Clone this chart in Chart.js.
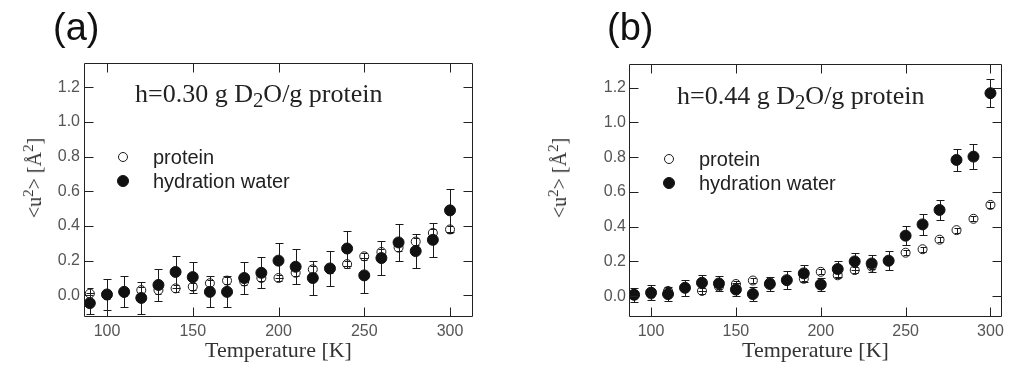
<!DOCTYPE html>
<html>
<head>
<meta charset="utf-8">
<script src="https://cdn.jsdelivr.net/npm/chart.js@4/dist/chart.umd.min.js"></script>
<style>
body { margin: 0; background: #fff; width: 1009px; height: 374px; position: relative; overflow: hidden; }
.panel { position: absolute; top: 0; height: 374px; }
.letter { position: absolute; font: 38px/1 "Liberation Sans", Arial, sans-serif; color: #111; }
.note { position: absolute; font: 26px/26px "Liberation Serif", "Times New Roman", serif; color: #222; white-space: nowrap; }
.note sub { font-size: 0.8em; line-height: 0; vertical-align: -0.25em; }
.ytitle { position: absolute; font: 20px/20px "Liberation Serif", "Times New Roman", serif; color: #333; white-space: nowrap;
          transform: translate(-50%, -50%) rotate(-90deg); }
.ytitle sup { font-size: 0.75em; line-height: 0; }
</style>
</head>
<body>
<div class="panel" style="left:0;width:490px"><canvas id="chartA"></canvas></div>
<div class="panel" style="left:545px;width:464px"><canvas id="chartB"></canvas></div>

<div class="letter" style="left:53px;top:8px">(a)</div>
<div class="letter" style="left:607px;top:8px">(b)</div>
<div class="note" style="left:135px;top:81px">h=0.30 g D<sub>2</sub>O/g protein</div>
<div class="note" style="left:677px;top:83px">h=0.44 g D<sub>2</sub>O/g protein</div>
<div class="ytitle" style="left:34px;top:178px">&lt;u<sup>2</sup>&gt; [Å<sup>2</sup>]</div>
<div class="ytitle" style="left:559px;top:178px">&lt;u<sup>2</sup>&gt; [Å<sup>2</sup>]</div>

<script>
// temperatures [K]
const temps = [90, 100, 110, 120, 130, 140, 150, 160, 170, 180, 190, 200, 210, 220, 230, 240, 250, 260, 270, 280, 290, 300];
const seriesLabels = ['protein', 'hydration water'];
const xTicks = [100, 150, 200, 250, 300];
const yTicks = [0, 0.2, 0.4, 0.6, 0.8, 1.0, 1.2];

// (a) h=0.30
const proteinA    = [0.01, 0.00, 0.015, 0.03, 0.03, 0.04, 0.05, 0.07, 0.085, 0.08, 0.10, 0.10, 0.13, 0.15, 0.15, 0.18, 0.225, 0.25, 0.275, 0.31, 0.36, 0.38];
const proteinErrA = [0.035, 0.02, 0.02, 0.02, 0.02, 0.02, 0.02, 0.02, 0.02, 0.02, 0.02, 0.02, 0.02, 0.02, 0.02, 0.02, 0.02, 0.02, 0.02, 0.02, 0.02, 0.02];
const waterA      = [-0.045, 0.005, 0.02, -0.015, 0.06, 0.135, 0.105, 0.02, 0.02, 0.10, 0.13, 0.20, 0.165, 0.10, 0.155, 0.27, 0.115, 0.215, 0.305, 0.255, 0.32, 0.49];
const waterErrA   = [0.06, 0.09, 0.09, 0.09, 0.09, 0.09, 0.09, 0.09, 0.09, 0.095, 0.09, 0.10, 0.10, 0.10, 0.10, 0.10, 0.10, 0.10, 0.105, 0.10, 0.10, 0.125];

// (b) h=0.44
const proteinB    = [0.01, 0.01, 0.03, 0.05, 0.03, 0.055, 0.07, 0.09, 0.08, 0.09, 0.10, 0.14, 0.12, 0.15, 0.17, 0.20, 0.25, 0.27, 0.325, 0.38, 0.445, 0.525];
const proteinErrB = [0.015, 0.015, 0.015, 0.015, 0.015, 0.015, 0.015, 0.015, 0.015, 0.015, 0.015, 0.015, 0.015, 0.015, 0.015, 0.015, 0.015, 0.015, 0.015, 0.015, 0.015, 0.015];
const waterB      = [0.008, 0.02, 0.012, 0.048, 0.077, 0.073, 0.038, 0.012, 0.07, 0.092, 0.131, 0.067, 0.156, 0.20, 0.188, 0.204, 0.348, 0.413, 0.496, 0.784, 0.803, 1.168];
const waterErrB   = [0.04, 0.045, 0.04, 0.045, 0.045, 0.045, 0.04, 0.04, 0.04, 0.05, 0.05, 0.04, 0.045, 0.05, 0.05, 0.055, 0.055, 0.06, 0.06, 0.065, 0.07, 0.08];

const INK = '#1a1a1a';

// vertical error bars with caps, drawn under the markers
const errorBars = {
    id: 'errorBars',
    beforeDatasetsDraw(chart) {
        const ctx = chart.ctx;
        const xs = chart.scales.x, ys = chart.scales.y;
        ctx.save();
        ctx.strokeStyle = INK;
        ctx.lineWidth = 1;
        chart.data.datasets.forEach(ds => {
            ds.data.forEach((p, i) => {
                const e = ds.errors[i];
                const x = Math.round(xs.getPixelForValue(p.x)) + 0.5;
                const y1 = Math.round(ys.getPixelForValue(p.y + e)) + 0.5;
                const y2 = Math.round(ys.getPixelForValue(p.y - e)) + 0.5;
                const c = ds.capHalf;
                ctx.beginPath();
                ctx.moveTo(x, y1); ctx.lineTo(x, y2);
                ctx.moveTo(x - c, y1); ctx.lineTo(x + c, y1);
                ctx.moveTo(x - c, y2); ctx.lineTo(x + c, y2);
                ctx.stroke();
            });
        });
        ctx.restore();
    }
};

// box frame with inward ticks on all four sides
const frame = {
    id: 'frame',
    afterDraw(chart) {
        const ctx = chart.ctx;
        const a = chart.chartArea;
        const xs = chart.scales.x, ys = chart.scales.y;
        const L = Math.round(a.left) + 0.5, R = Math.round(a.right) - 0.5;
        const T = Math.round(a.top) + 0.5, B = Math.round(a.bottom) - 0.5;
        const len = 9;
        ctx.save();
        ctx.strokeStyle = '#222';
        ctx.lineWidth = 1;
        ctx.beginPath();
        ctx.rect(L, T, R - L, B - T);
        xTicks.forEach(v => {
            const x = Math.round(xs.getPixelForValue(v)) + 0.5;
            ctx.moveTo(x, B); ctx.lineTo(x, B - len);
            ctx.moveTo(x, T); ctx.lineTo(x, T + len);
        });
        yTicks.forEach(v => {
            const y = Math.round(ys.getPixelForValue(v)) + 0.5;
            ctx.moveTo(L, y); ctx.lineTo(L + len, y);
            ctx.moveTo(R, y); ctx.lineTo(R - len, y);
        });
        ctx.stroke();
        ctx.restore();
    }
};

// legend inside the plot
const boxLegend = {
    id: 'boxLegend',
    afterDraw(chart, args, opts) {
        const ctx = chart.ctx;
        ctx.save();
        ctx.font = '20px "Liberation Sans", Arial, sans-serif';
        ctx.textBaseline = 'middle';
        ctx.fillStyle = '#222';
        chart.data.datasets.forEach((ds, i) => {
            const y = opts.y + i * 24;
            ctx.beginPath();
            ctx.arc(opts.x, y, ds.pointRadius, 0, Math.PI * 2);
            ctx.lineWidth = 1;
            ctx.strokeStyle = ds.pointBorderColor;
            if (ds.pointBackgroundColor !== 'transparent') {
                ctx.fillStyle = ds.pointBackgroundColor;
                ctx.fill();
            }
            ctx.stroke();
            ctx.fillStyle = '#222';
            ctx.fillText(ds.label, opts.x + 30, y + 1);
        });
        ctx.restore();
    }
};

function toPoints(vals) {
    return temps.map((t, i) => ({ x: t, y: vals[i] }));
}

function makeChart(id, prot, protErr, water, waterErr, xr, yr, pad, yWidth, tickPad, legendAt) {
    return new Chart(document.getElementById(id), {
        type: 'scatter',
        data: {
            datasets: [
                {
                    label: seriesLabels[0],
                    data: toPoints(prot),
                    errors: protErr,
                    capHalf: 3,
                    pointRadius: 4.5,
                    pointBackgroundColor: 'transparent',
                    pointBorderColor: INK,
                    pointBorderWidth: 1,
                    order: 2
                },
                {
                    label: seriesLabels[1],
                    data: toPoints(water),
                    errors: waterErr,
                    capHalf: 4,
                    pointRadius: 5.5,
                    pointBackgroundColor: '#111',
                    pointBorderColor: '#111',
                    pointBorderWidth: 1,
                    order: 1
                }
            ]
        },
        options: {
            responsive: true,
            maintainAspectRatio: false,
            animation: false,
            devicePixelRatio: 1,
            layout: { padding: pad },
            plugins: {
                legend: { display: false },
                tooltip: { enabled: false },
                boxLegend: legendAt
            },
            scales: {
                x: {
                    type: 'linear',
                    min: xr[0], max: xr[1],
                    afterBuildTicks: s => { s.ticks = xTicks.map(v => ({ value: v })); },
                    afterFit: s => { s.height = 57; },
                    grid: { display: false, drawTicks: false },
                    border: { display: false },
                    ticks: {
                        color: '#555',
                        font: { family: '"Liberation Sans", Arial, sans-serif', size: 16 },
                        padding: 5,
                        maxRotation: 0
                    },
                    title: {
                        display: true,
                        text: 'Temperature [K]',
                        color: '#333',
                        font: { family: '"Liberation Serif", "Times New Roman", serif', size: 22 },
                        padding: { top: 0, bottom: 10 }
                    }
                },
                y: {
                    min: yr[0], max: yr[1],
                    afterBuildTicks: s => { s.ticks = yTicks.map(v => ({ value: v })); },
                    afterFit: s => { s.width = yWidth; },
                    grid: { display: false, drawTicks: false },
                    border: { display: false },
                    ticks: {
                        color: '#555',
                        font: { family: '"Liberation Sans", Arial, sans-serif', size: 16 },
                        padding: tickPad,
                        callback: v => v.toFixed(1)
                    }
                }
            }
        },
        plugins: [errorBars, frame, boxLegend]
    });
}

makeChart('chartA', proteinA, proteinErrA, waterA, waterErrA,
    [86.6, 313.4], [-0.125, 1.34], { top: 63, right: 17, left: 0, bottom: 0 }, 84, 4, { x: 123, y: 157 });
makeChart('chartB', proteinB, proteinErrB, waterB, waterErrB,
    [87.0, 306.7], [-0.12, 1.336], { top: 64, right: 1, left: 0, bottom: 0 }, 84, 3, { x: 124, y: 159 });
</script>
</body>
</html>
